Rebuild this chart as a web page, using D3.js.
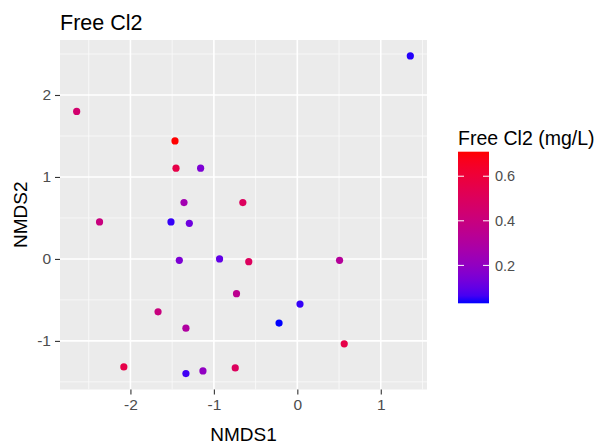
<!DOCTYPE html>
<html>
<head>
<meta charset="utf-8">
<script src="https://cdn.jsdelivr.net/npm/d3@7"></script>
<style>
  html, body { margin: 0; padding: 0; background: #ffffff; }
  svg { display: block; font-family: "Liberation Sans", Arial, sans-serif; }
</style>
</head>
<body>
<svg id="chart" width="599" height="444"></svg>
<script>
// NMDS ordination scores per sample, coloured by free chlorine
const nmds1 = [-2.644, -1.466, -1.454, -1.159, -1.358, -0.653, -2.370, -1.514,
               -1.294, -1.414, -0.932, -0.729, -1.669, -1.335, -2.079, -1.335,
               -1.131, -0.744, -0.582, 0.506, 0.032, -0.219, 0.562, 1.354];
const nmds2 = [1.800, 1.440, 1.107, 1.107, 0.688, 0.688, 0.451, 0.451,
               0.435, -0.017, 0.000, -0.424, -0.645, -0.845, -1.317, -1.399,
               -1.366, -1.329, -0.033, -0.017, -0.551, -0.783, -1.036, 2.477];
const freeCl2 = [0.45, 0.71, 0.56, 0.15, 0.25, 0.50, 0.40, 0.05,
                 0.12, 0.15, 0.10, 0.35, 0.40, 0.30, 0.56, 0.06,
                 0.20, 0.50, 0.50, 0.32, 0.05, 0.03, 0.56, 0.04];

const xTicks = [-2, -1, 0, 1];
const yTicks = [-1, 0, 1, 2];
const legendTicks = [0.2, 0.4, 0.6];

const chartTitle = "Free Cl2";
const xTitle = "NMDS1";
const yTitle = "NMDS2";
const legendTitle = "Free Cl2 (mg/L)";

const svg = d3.select("#chart");
const panel = { left: 60, right: 427, top: 40, bottom: 389.5 };

// ggplot-style 5% expansion around the data range
function expanded(vals) {
  const [lo, hi] = d3.extent(vals);
  const pad = (hi - lo) * 0.05;
  return [lo - pad, hi + pad];
}
const x = d3.scaleLinear().domain(expanded(nmds1)).range([panel.left, panel.right]);
const y = d3.scaleLinear().domain(expanded(nmds2)).range([panel.bottom, panel.top]);

const cDomain = d3.extent(freeCl2);
const colour = d3.scaleSequential(d3.interpolateLab("#0000ff", "#ff0000")).domain(cDomain);

// panel background
svg.append("rect")
  .attr("x", panel.left).attr("y", panel.top)
  .attr("width", panel.right - panel.left).attr("height", panel.bottom - panel.top)
  .attr("fill", "#ebebeb");

// minor grid halfway between major breaks
const xMinor = d3.range(-3.5, 2, 1).filter(v => v > x.domain()[0] && v < x.domain()[1]);
const yMinor = d3.range(-2.5, 3, 1).filter(v => v > y.domain()[0] && v < y.domain()[1]);
const grid = svg.append("g");
grid.selectAll(".xmin").data(xMinor).enter().append("line")
  .attr("x1", d => x(d)).attr("x2", d => x(d))
  .attr("y1", panel.top).attr("y2", panel.bottom)
  .attr("stroke", "#fafafa").attr("stroke-width", 0.8);
grid.selectAll(".ymin").data(yMinor).enter().append("line")
  .attr("y1", d => y(d)).attr("y2", d => y(d))
  .attr("x1", panel.left).attr("x2", panel.right)
  .attr("stroke", "#fafafa").attr("stroke-width", 0.8);
grid.selectAll(".xmaj").data(xTicks).enter().append("line")
  .attr("x1", d => x(d)).attr("x2", d => x(d))
  .attr("y1", panel.top).attr("y2", panel.bottom)
  .attr("stroke", "#ffffff").attr("stroke-width", 1.6);
grid.selectAll(".ymaj").data(yTicks).enter().append("line")
  .attr("y1", d => y(d)).attr("y2", d => y(d))
  .attr("x1", panel.left).attr("x2", panel.right)
  .attr("stroke", "#ffffff").attr("stroke-width", 1.6);

// points
svg.append("g").selectAll("circle")
  .data(d3.range(nmds1.length)).enter().append("circle")
  .attr("cx", i => x(nmds1[i]))
  .attr("cy", i => y(nmds2[i]))
  .attr("r", 3.6)
  .attr("fill", i => colour(freeCl2[i]));

// axes
function styleAxis(g) {
  g.select(".domain").remove();
  g.selectAll(".tick line").attr("stroke", "#333333").attr("stroke-width", 1.1);
  g.selectAll(".tick text").attr("fill", "#4d4d4d")
    .style("font-size", "15.5px").style("font-family", "'Liberation Sans', Arial, sans-serif");
}
svg.append("g")
  .attr("transform", `translate(0,${panel.bottom})`)
  .call(d3.axisBottom(x).tickValues(xTicks).tickSize(5).tickPadding(4).tickFormat(d3.format("d")))
  .call(styleAxis)
  .selectAll(".tick text").text(d => d < 0 ? "-" + Math.abs(d) : d);
svg.append("g")
  .attr("transform", `translate(${panel.left},0)`)
  .call(d3.axisLeft(y).tickValues(yTicks).tickSize(5).tickPadding(4).tickFormat(d3.format("d")))
  .call(styleAxis)
  .selectAll(".tick text").text(d => d < 0 ? "-" + Math.abs(d) : d);

// titles
svg.append("text").attr("x", panel.left).attr("y", 30)
  .attr("font-size", 21.5).attr("fill", "#000").text(chartTitle);
svg.append("text").attr("x", (panel.left + panel.right) / 2).attr("y", 441)
  .attr("text-anchor", "middle").attr("font-size", 19).attr("fill", "#000").text(xTitle);
svg.append("text")
  .attr("transform", `translate(27,${(panel.top + panel.bottom) / 2}) rotate(-90)`)
  .attr("text-anchor", "middle").attr("font-size", 19).attr("fill", "#000").text(yTitle);

// colour bar legend
const bar = { x: 458, w: 31, top: 151.7, bottom: 303.3 };
const ly = d3.scaleLinear().domain(cDomain).range([bar.bottom, bar.top]);
const defs = svg.append("defs");
const grad = defs.append("linearGradient").attr("id", "clGrad")
  .attr("x1", 0).attr("y1", 1).attr("x2", 0).attr("y2", 0);
grad.selectAll("stop").data(d3.range(0, 1.0001, 0.05)).enter().append("stop")
  .attr("offset", t => t)
  .attr("stop-color", t => colour(cDomain[0] + t * (cDomain[1] - cDomain[0])));
svg.append("rect")
  .attr("x", bar.x).attr("y", bar.top)
  .attr("width", bar.w).attr("height", bar.bottom - bar.top)
  .attr("fill", "url(#clGrad)");
const lg = svg.append("g");
lg.selectAll(".tl").data(legendTicks).enter().append("line")
  .attr("x1", bar.x).attr("x2", bar.x + 6)
  .attr("y1", d => ly(d)).attr("y2", d => ly(d))
  .attr("stroke", "#ffffff").attr("stroke-width", 1);
lg.selectAll(".tr").data(legendTicks).enter().append("line")
  .attr("x1", bar.x + bar.w - 6).attr("x2", bar.x + bar.w)
  .attr("y1", d => ly(d)).attr("y2", d => ly(d))
  .attr("stroke", "#ffffff").attr("stroke-width", 1);
lg.selectAll("text").data(legendTicks).enter().append("text")
  .attr("x", bar.x + bar.w + 6).attr("y", d => ly(d))
  .attr("dy", "0.36em").attr("font-size", 14.5).attr("fill", "#4d4d4d")
  .text(d => d3.format(".1f")(d));
svg.append("text").attr("x", bar.x).attr("y", 145)
  .attr("font-size", 19.5).attr("fill", "#000").text(legendTitle);
</script>
</body>
</html>
